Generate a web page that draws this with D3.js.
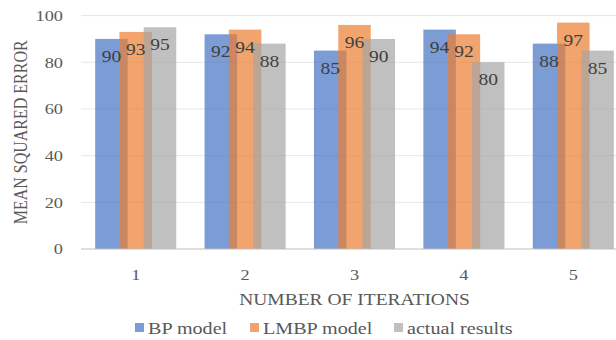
<!DOCTYPE html>
<html>
<head>
<meta charset="utf-8">
<script src="https://cdn.jsdelivr.net/npm/d3@7"></script>
<style>
  html, body { margin: 0; padding: 0; background: #fff; }
</style>
</head>
<body>
<svg id="chart" width="616" height="340"></svg>
<script>
// Iterations on the x axis
const iterations = ["1", "2", "3", "4", "5"];
// Series values
const bpModel = [90, 92, 85, 94, 88];
const lmbpModel = [93, 94, 96, 92, 97];
const actualResults = [95, 88, 90, 80, 85];
const seriesNames = ["BP model", "LMBP model", "actual results"];
const seriesColors = ["#4472C4", "#ED7D31", "#A5A5A5"];
const yTicks = [0, 20, 40, 60, 80, 100];

const series = [bpModel, lmbpModel, actualResults];
const FONT = "'Liberation Serif', 'Times New Roman', Times, serif";
// Horizontal widening applied to all text glyphs
const SX = 1.22;

const svg = d3.select("#chart").attr("font-family", FONT);
const margin = { left: 81, right: -12, top: 15.6, bottom: 91 };
const W = 616, H = 340;

const x = d3.scaleBand()
  .domain(iterations)
  .range([margin.left, W - margin.right])
  .paddingInner(0).paddingOuter(0);

const y = d3.scaleLinear()
  .domain([0, 100])
  .range([H - margin.bottom, margin.top]);

const step = x.step();
const barW = step * 0.297;
const shift = step * 0.222;

// Place a text element at (px, py) with widened glyphs
function place(sel, px, py) {
  return sel.attr("transform", (d, i) => {
    const xx = typeof px === "function" ? px(d, i) : px;
    const yy = typeof py === "function" ? py(d, i) : py;
    return `translate(${xx},${yy}) scale(${SX},1)`;
  });
}

// Horizontal gridlines
svg.append("g")
  .selectAll("line")
  .data(yTicks.filter(d => d > 0))
  .join("line")
  .attr("x1", margin.left).attr("x2", W - margin.right)
  .attr("y1", d => y(d)).attr("y2", d => y(d))
  .attr("stroke", "#E6E6E6").attr("stroke-width", 1);

// Y axis tick labels
const yPad = 18;
const yAxis = d3.axisLeft(y).tickValues(yTicks).tickSize(0).tickPadding(yPad);
const gy = svg.append("g").attr("transform", `translate(${margin.left},0)`).call(yAxis)
  .attr("font-family", FONT);
gy.select(".domain").remove();
gy.selectAll("text")
  .attr("font-size", 15).attr("fill", "#595959")
  .attr("x", -yPad / SX)
  .attr("transform", `scale(${SX},1)`);

// Bars: three overlapping translucent series per iteration
series.forEach((vals, si) => {
  svg.append("g")
    .selectAll("rect")
    .data(vals)
    .join("rect")
    .attr("x", (d, i) => x(iterations[i]) + step / 2 + (si - 1) * shift - barW / 2)
    .attr("y", d => y(d))
    .attr("width", barW)
    .attr("height", d => y(0) - y(d))
    .attr("fill", seriesColors[si])
    .attr("fill-opacity", 0.7);
});

// Value labels inside the top of each bar
series.forEach((vals, si) => {
  const t = svg.append("g")
    .selectAll("text")
    .data(vals)
    .join("text")
    .attr("text-anchor", "middle")
    .attr("font-size", 16)
    .attr("fill", "#404040")
    .text(d => d);
  place(t, (d, i) => x(iterations[i]) + step / 2 + (si - 1) * shift, d => y(d) + 23);
});

// Baseline
svg.append("line")
  .attr("x1", margin.left).attr("x2", W - margin.right)
  .attr("y1", y(0)).attr("y2", y(0))
  .attr("stroke", "#BFBFBF").attr("stroke-width", 1);

// X axis tick labels
const xAxis = d3.axisBottom(x).tickSize(0).tickPadding(20);
const gx = svg.append("g").attr("transform", `translate(0,${y(0)})`).call(xAxis)
  .attr("font-family", FONT);
gx.select(".domain").remove();
gx.selectAll("text")
  .attr("font-size", 15).attr("fill", "#595959")
  .attr("transform", `scale(${SX},1)`);

// Axis titles
place(svg.append("text")
  .attr("text-anchor", "middle")
  .attr("font-size", 16).attr("fill", "#595959")
  .text("NUMBER OF ITERATIONS"), (margin.left + W - margin.right) / 2, 305);

svg.append("text")
  .attr("transform", `translate(27,${(margin.top + y(0)) / 2}) scale(${SX},1) rotate(-90)`)
  .attr("text-anchor", "middle")
  .attr("font-size", 16).attr("fill", "#595959")
  .text("MEAN SQUARED ERROR");

// Legend
const legendX = [135, 250, 394];
const lg = svg.append("g");
seriesNames.forEach((name, i) => {
  lg.append("rect")
    .attr("x", legendX[i]).attr("y", 323)
    .attr("width", 9).attr("height", 9)
    .attr("fill", seriesColors[i]).attr("fill-opacity", 0.7);
  place(lg.append("text")
    .attr("font-size", 16.5).attr("fill", "#595959")
    .text(name), legendX[i] + 13, 334);
});
</script>
</body>
</html>
